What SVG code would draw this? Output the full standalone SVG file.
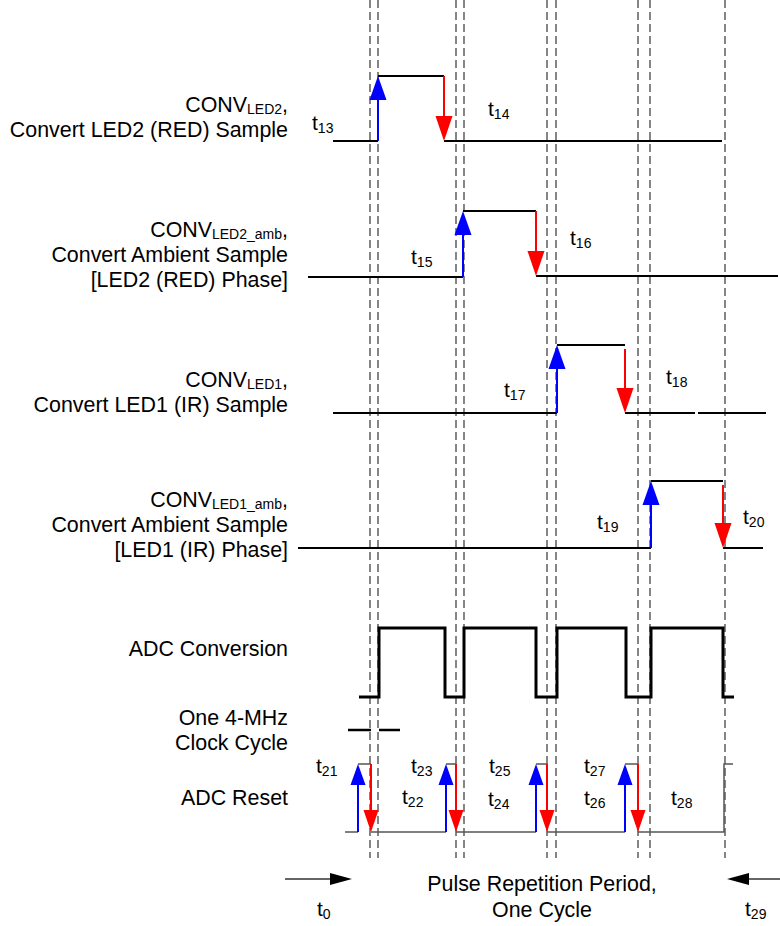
<svg xmlns="http://www.w3.org/2000/svg" width="780" height="926" viewBox="0 0 780 926">
<style>
text{font-family:"Liberation Sans",Arial,sans-serif;fill:#000}
.lbl{font-size:21.4px;text-anchor:end}
.t{font-size:21px}
.sub{font-size:14px}
.dash{stroke:#222;stroke-width:1.1;stroke-dasharray:8 4;fill:none}
.sig{stroke:#000;stroke-width:1.8;fill:none}
.adc{stroke:#000;stroke-width:3;fill:none}
.rb{stroke:#555;stroke-width:1.5;fill:none}
.bl{stroke:#0000ff;stroke-width:2;fill:none}
.rd{stroke:#ff0000;stroke-width:2;fill:none}
.bh{fill:#0000ff}
.rh{fill:#ff0000}
</style>
<g id="gridlines">
<line class="dash" x1="370" y1="0" x2="370" y2="858"/>
<line class="dash" x1="378" y1="0" x2="378" y2="858"/>
<line class="dash" x1="456" y1="0" x2="456" y2="858"/>
<line class="dash" x1="464" y1="0" x2="464" y2="858"/>
<line class="dash" x1="547" y1="0" x2="547" y2="858"/>
<line class="dash" x1="556" y1="0" x2="556" y2="858"/>
<line class="dash" x1="638" y1="0" x2="638" y2="858"/>
<line class="dash" x1="650" y1="0" x2="650" y2="858"/>
<line class="dash" x1="725" y1="0" x2="725" y2="858"/>
</g>
<g id="row-led2">
<text class="lbl" x="288" y="112">CONV<tspan class="sub" dy="2">LED2</tspan><tspan dy="-2">,</tspan></text>
<text class="lbl" x="288" y="137">Convert LED2 (RED) Sample</text>
<polyline class="sig" points="333,141 378,141"/>
<polyline class="sig" points="378,76 444,76"/>
<polyline class="sig" points="444,141 722,141"/>
<line class="bl" x1="378" y1="141" x2="378" y2="98"/>
<polygon class="bh" points="378,76 369.5,100 386.5,100"/>
<line class="rd" x1="444" y1="76" x2="444" y2="118"/>
<polygon class="rh" points="444,141 435.5,116 452.5,116"/>
<text class="t" x="312" y="130">t<tspan class="sub" dy="3">13</tspan></text>
<text class="t" x="488" y="116">t<tspan class="sub" dy="3">14</tspan></text>
</g>
<g id="row-led2amb">
<text class="lbl" x="288" y="237">CONV<tspan class="sub" dy="2">LED2_amb</tspan><tspan dy="-2">,</tspan></text>
<text class="lbl" x="288" y="262">Convert Ambient Sample</text>
<text class="lbl" x="288" y="287">[LED2 (RED) Phase]</text>
<polyline class="sig" points="308,277 463,277"/>
<polyline class="sig" points="463,211 536,211"/>
<polyline class="sig" points="536,276 778,276"/>
<line class="bl" x1="463" y1="277" x2="463" y2="233"/>
<polygon class="bh" points="463,211 454.5,235 471.5,235"/>
<line class="rd" x1="536" y1="211" x2="536" y2="253"/>
<polygon class="rh" points="536,276 527.5,251 544.5,251"/>
<text class="t" x="411" y="264">t<tspan class="sub" dy="3">15</tspan></text>
<text class="t" x="570" y="245">t<tspan class="sub" dy="3">16</tspan></text>
</g>
<g id="row-led1">
<text class="lbl" x="288" y="387">CONV<tspan class="sub" dy="2">LED1</tspan><tspan dy="-2">,</tspan></text>
<text class="lbl" x="288" y="412">Convert LED1 (IR) Sample</text>
<polyline class="sig" points="333,413 557,413"/>
<polyline class="sig" points="557,345 625,345"/>
<polyline class="sig" points="625,413 695,413"/>
<polyline class="sig" points="698,413 766,413"/>
<line class="bl" x1="557" y1="413" x2="557" y2="367"/>
<polygon class="bh" points="557,345 548.5,369 565.5,369"/>
<line class="rd" x1="625" y1="349" x2="625" y2="390"/>
<polygon class="rh" points="625,413 616.5,388 633.5,388"/>
<text class="t" x="504" y="397">t<tspan class="sub" dy="3">17</tspan></text>
<text class="t" x="666" y="384">t<tspan class="sub" dy="3">18</tspan></text>
</g>
<g id="row-led1amb">
<text class="lbl" x="288" y="507">CONV<tspan class="sub" dy="2">LED1_amb</tspan><tspan dy="-2">,</tspan></text>
<text class="lbl" x="288" y="532">Convert Ambient Sample</text>
<text class="lbl" x="288" y="557">[LED1 (IR) Phase]</text>
<polyline class="sig" points="298,548 651,548"/>
<polyline class="sig" points="651,481 723,481"/>
<polyline class="sig" points="723,548 763,548"/>
<line class="bl" x1="651" y1="548" x2="651" y2="503"/>
<polygon class="bh" points="651,481 642.5,505 659.5,505"/>
<line class="rd" x1="723" y1="485" x2="723" y2="525"/>
<polygon class="rh" points="723,548 714.5,523 731.5,523"/>
<text class="t" x="597" y="529">t<tspan class="sub" dy="3">19</tspan></text>
<text class="t" x="743" y="524">t<tspan class="sub" dy="3">20</tspan></text>
</g>
<g id="row-adc">
<text class="lbl" x="288" y="656">ADC Conversion</text>
<polyline class="adc" points="359,697 379,697 379,628 445,628 445,697 464,697 464,628 536,628 536,697 557,697 557,628 626,628 626,697 651,697 651,628 723,628 723,697 734,697"/>
</g>
<g id="row-clock">
<text class="lbl" x="288" y="725">One 4-MHz</text>
<text class="lbl" x="288" y="750">Clock Cycle</text>
<line x1="348" y1="730" x2="371" y2="730" stroke="#000" stroke-width="2.5"/>
<line x1="379" y1="730" x2="400" y2="730" stroke="#000" stroke-width="2.5"/>
</g>
<g id="row-reset">
<text class="lbl" x="288" y="805">ADC Reset</text>
<polyline class="rb" points="345,832 358,832"/>
<polyline class="rb" points="358,764 371,764"/>
<polyline class="rb" points="371,832 446,832"/>
<polyline class="rb" points="446,764 456,764"/>
<polyline class="rb" points="456,832 536,832"/>
<polyline class="rb" points="536,764 547,764"/>
<polyline class="rb" points="547,832 625,832"/>
<polyline class="rb" points="625,764 638,764"/>
<polyline class="rb" points="638,832 724,832 724,764 733,764"/>
<line class="bl" x1="358" y1="832" x2="358" y2="783" stroke="#000080"/>
<polygon class="bh" points="358,764 350.5,785 365.5,785"/>
<line class="rd" x1="371" y1="764" x2="371" y2="812"/>
<polygon class="rh" points="371,832 363.5,810 378.5,810"/>
<line class="bl" x1="446" y1="832" x2="446" y2="783"/>
<polygon class="bh" points="446,764 438.5,785 453.5,785"/>
<line class="rd" x1="456" y1="764" x2="456" y2="812"/>
<polygon class="rh" points="456,832 448.5,810 463.5,810"/>
<line class="bl" x1="536" y1="832" x2="536" y2="783"/>
<polygon class="bh" points="536,764 528.5,785 543.5,785"/>
<line class="rd" x1="547" y1="764" x2="547" y2="812"/>
<polygon class="rh" points="547,832 539.5,810 554.5,810"/>
<line class="bl" x1="625" y1="832" x2="625" y2="783"/>
<polygon class="bh" points="625,764 617.5,785 632.5,785"/>
<line class="rd" x1="638" y1="764" x2="638" y2="812"/>
<polygon class="rh" points="638,832 630.5,810 645.5,810"/>
<text class="t" x="316" y="773">t<tspan class="sub" dy="3">21</tspan></text>
<text class="t" x="402" y="804">t<tspan class="sub" dy="3">22</tspan></text>
<text class="t" x="411" y="773">t<tspan class="sub" dy="3">23</tspan></text>
<text class="t" x="488" y="806">t<tspan class="sub" dy="3">24</tspan></text>
<text class="t" x="489" y="773">t<tspan class="sub" dy="3">25</tspan></text>
<text class="t" x="584" y="805">t<tspan class="sub" dy="3">26</tspan></text>
<text class="t" x="584" y="773">t<tspan class="sub" dy="3">27</tspan></text>
<text class="t" x="671" y="805">t<tspan class="sub" dy="3">28</tspan></text>
</g>
<g id="period">
<line x1="285" y1="879" x2="332" y2="879" stroke="#333" stroke-width="1.5"/>
<polygon points="330,873 352,879 330,885" fill="#000"/>
<line x1="748" y1="879" x2="780" y2="879" stroke="#333" stroke-width="1.5"/>
<polygon points="727,879 749,873 749,885" fill="#000"/>
<text x="542" y="891" style="font-size:21.4px;text-anchor:middle">Pulse Repetition Period,</text>
<text x="542" y="917" style="font-size:21.4px;text-anchor:middle">One Cycle</text>
<text class="t" x="317" y="916">t<tspan class="sub" dy="3">0</tspan></text>
<text class="t" x="745" y="916">t<tspan class="sub" dy="3">29</tspan></text>
</g>
</svg>
